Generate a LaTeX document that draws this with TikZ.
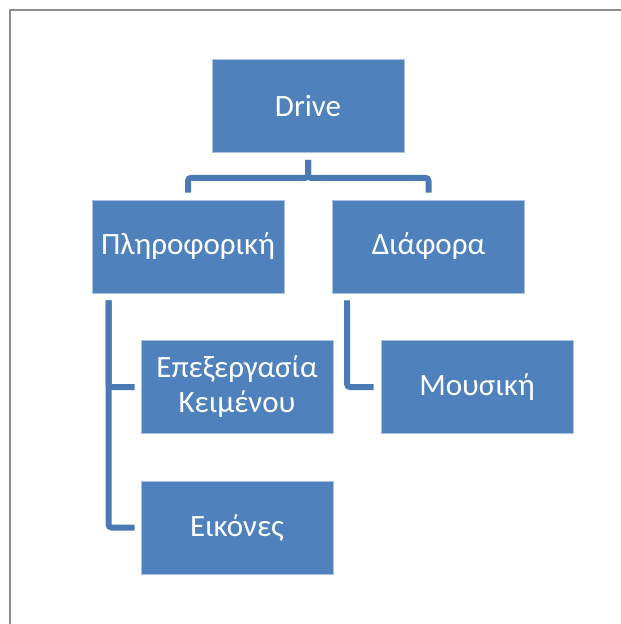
\documentclass[tikz,border=0pt]{standalone}
\usepackage{fontspec}
\setmainfont{Carlito}
\usetikzlibrary{calc}
\definecolor{boxfill}{HTML}{4F81BD}
\definecolor{boxedge}{HTML}{A9C3E3}
\definecolor{linkblue}{HTML}{4A7AB3}
\definecolor{framegray}{HTML}{8C8C8C}
\tikzset{
  box/.style={rectangle, fill=boxfill, draw=boxedge, line width=0.8pt,
    minimum width=192pt, minimum height=93pt, inner sep=0pt,
    text=white, align=center, font=\fontsize{31}{35}\selectfont},
  link/.style={draw=linkblue, line width=6pt, rounded corners=3pt},
}
\begin{document}
\begin{tikzpicture}[x=1pt,y=-1pt]
\useasboundingbox (0,0) rectangle (621,624);
\draw[framegray, line width=2pt] (10,625) -- (10,10) -- (622,10);
\node[box] (drive) at (308,106) {Drive};
\node[box] (pl) at (188,246.5) {Πληροφορική};
\node[box] (dia) at (428.5,246.5) {Διάφορα};
\node[box] (ep) at (237,387) {Επεξεργασία\\Κειμένου};
\node[box] (mou) at (477,387) {Μουσική};
\node[box] (eik) at (237,527.5) {Εικόνες};
\draw[link, shorten <=7pt, shorten >=7pt] (drive.south) -- ++(0,25) -| (pl.north);
\draw[link, shorten <=7pt, shorten >=7pt] (drive.south) -- ++(0,25) -| (dia.north);
\draw[link, shorten <=7pt, shorten >=6pt] ($(pl.south west)+(17,0)$) |- (ep.west);
\draw[link, shorten <=7pt, shorten >=6pt] ($(pl.south west)+(17,0)$) |- (eik.west);
\draw[link, shorten <=7pt, shorten >=7pt] ($(dia.south west)+(15,0)$) |- (mou.west);
\end{tikzpicture}
\end{document}
